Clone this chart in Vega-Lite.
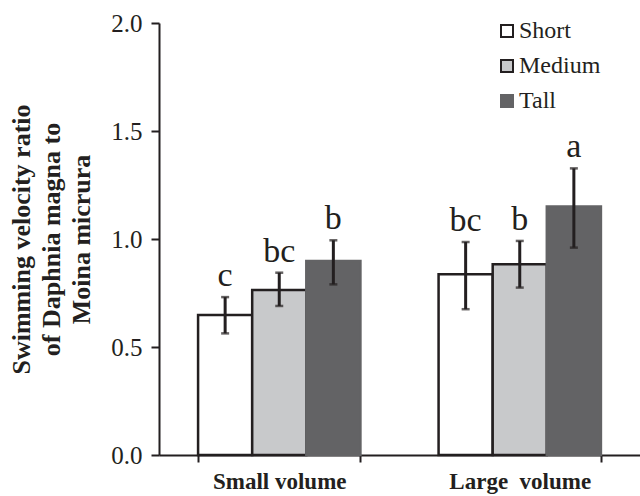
{
  "$schema": "https://vega.github.io/schema/vega-lite/v6.json",
  "width": 481,
  "height": 432,
  "autosize": {"type": "none"},
  "padding": {"left": 159, "top": 23, "right": 0, "bottom": 41},
  "background": "white",
  "config": {
    "font": "Liberation Serif",
    "view": {"stroke": null},
    "axis": {"grid": false, "labelFont": "Liberation Serif", "titleFont": "Liberation Serif"},
    "axisY": {"labelFont": "Liberation Serif", "labelFontSize": 25, "labelColor": "#231f20", "labelPadding": 9, "tickSize": 8, "tickWidth": 2, "tickColor": "#231f20", "domainWidth": 2, "domainColor": "#231f20"},
    "text": {"font": "Liberation Serif"},
    "legend": {
      "title": null,
      "orient": "none",
      "legendX": 336,
      "legendY": -4,
      "padding": 0,
      "symbolType": "square",
      "symbolSize": 144,
      "symbolStrokeWidth": 2,
      "labelFont": "Liberation Serif",
      "labelFontSize": 24,
      "labelColor": "#231f20",
      "labelOffset": 0,
      "rowPadding": 11
    }
  },
  "data": {
    "values": [
      {"volume": "Small volume", "height": "Short", "ratio": 0.648, "lo": 0.563, "hi": 0.731, "letter": "c"},
      {"volume": "Small volume", "height": "Medium", "ratio": 0.764, "lo": 0.69, "hi": 0.844, "letter": "bc"},
      {"volume": "Small volume", "height": "Tall", "ratio": 0.898, "lo": 0.79, "hi": 0.994, "letter": "b"},
      {"volume": "Large\u00a0 volume", "height": "Short", "ratio": 0.837, "lo": 0.675, "hi": 0.986, "letter": "bc"},
      {"volume": "Large\u00a0 volume", "height": "Medium", "ratio": 0.883, "lo": 0.775, "hi": 0.991, "letter": "b"},
      {"volume": "Large\u00a0 volume", "height": "Tall", "ratio": 1.15, "lo": 0.96, "hi": 1.327, "letter": "a"}
    ]
  },
  "encoding": {
    "x": {
      "field": "volume",
      "type": "nominal",
      "sort": ["Small volume", "Large\u00a0 volume"],
      "scale": {"paddingInner": 0.325, "paddingOuter": 0.1625},
      "axis": {
        "title": null,
        "labelAngle": 0,
        "labelFont": "Liberation Serif",
        "labelFontWeight": "bold",
        "labelFontSize": 23,
        "labelColor": "#231f20",
        "labelPadding": 8,
        "domainColor": "#231f20",
        "domainWidth": 2,
        "tickColor": "#231f20",
        "tickWidth": 2,
        "tickSize": 7,
        "tickBand": "extent"
      }
    },
    "xOffset": {
      "field": "height",
      "type": "nominal",
      "sort": ["Short", "Medium", "Tall"],
      "scale": {"paddingInner": 0, "paddingOuter": 0}
    }
  },
  "layer": [
    {
      "mark": {"type": "bar", "strokeWidth": 2.5},
      "encoding": {
        "y": {
          "field": "ratio",
          "type": "quantitative",
          "scale": {"domain": [0, 2]},
          "axis": {
            "title": ["Swimming velocity ratio", "of Daphnia magna to", "Moina micrura"],
            "titleFont": "Liberation Serif",
            "titleFontWeight": "bold",
            "titleFontSize": 26,
            "titleLineHeight": 30,
            "titleColor": "#231f20",
            "titlePadding": 16,
            "values": [0, 0.5, 1, 1.5, 2],
            "format": ".1f",
            "labelFont": "Liberation Serif",
            "labelFontSize": 25,
            "labelColor": "#231f20",
            "labelPadding": 9,
            "tickSize": 8,
            "tickWidth": 2,
            "tickColor": "#231f20",
            "domainWidth": 2,
            "domainColor": "#231f20"
          }
        },
        "fill": {
          "field": "height",
          "type": "nominal",
          "sort": ["Short", "Medium", "Tall"],
          "scale": {"domain": ["Short", "Medium", "Tall"], "range": ["#ffffff", "#c8c9cb", "#636365"]}
        },
        "stroke": {
          "field": "height",
          "type": "nominal",
          "sort": ["Short", "Medium", "Tall"],
          "scale": {"domain": ["Short", "Medium", "Tall"], "range": ["#231f20", "#231f20", "#636365"]}
        }
      }
    },
    {
      "mark": {"type": "rule", "strokeWidth": 3, "color": "#231f20"},
      "encoding": {
        "y": {"field": "lo", "type": "quantitative"},
        "y2": {"field": "hi"}
      }
    },
    {
      "mark": {"type": "tick", "color": "#231f20", "size": 8, "thickness": 2.5},
      "encoding": {"y": {"field": "lo", "type": "quantitative"}}
    },
    {
      "mark": {"type": "tick", "color": "#231f20", "size": 8, "thickness": 2.5},
      "encoding": {"y": {"field": "hi", "type": "quantitative"}}
    },
    {
      "mark": {"type": "text", "fontSize": 34, "dy": -11, "baseline": "alphabetic", "color": "#231f20", "font": "Liberation Serif"},
      "encoding": {
        "y": {"field": "hi", "type": "quantitative"},
        "text": {"field": "letter"}
      }
    }
  ]
}
